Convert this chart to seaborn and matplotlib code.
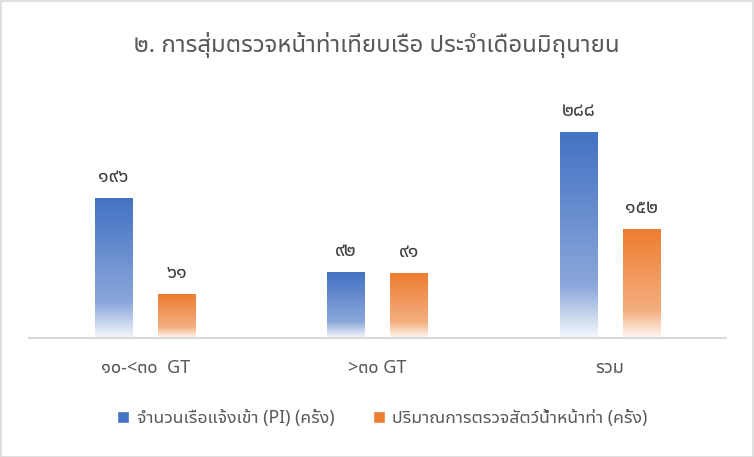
import matplotlib
matplotlib.use("Agg")
import matplotlib.pyplot as plt
import matplotlib.colors as mcolors
from matplotlib.patches import Rectangle
import numpy as np
import pandas as pd
import seaborn as sns

# ---------------- data ----------------
categories = ["๑๐-<๓๐  GT", ">๓๐ GT", "รวม"]
series_names = ["จำนวนเรือแจ้งเข้า (PI) (ครั้ง)", "ปริมาณการตรวจสัตว์น้ำหน้าท่า (ครั้ง)"]
pi_values = [196, 92, 288]
inspect_values = [61, 91, 152]
title_text = "๒. การสุ่มตรวจหน้าท่าเทียบเรือ ประจำเดือนมิถุนายน"

colors = ["#4472C4", "#ED7D31"]

df = pd.DataFrame({
    "category": categories * 2,
    "series": [series_names[0]] * 3 + [series_names[1]] * 3,
    "value": pi_values + inspect_values,
})

THAI_DIGITS = str.maketrans("0123456789", "๐๑๒๓๔๕๖๗๘๙")

sns.set_theme(style="white")
plt.rcParams["font.family"] = ["Noto Sans Thai UI", "Noto Sans", "DejaVu Sans"]

fig = plt.figure(figsize=(7.54, 4.57), dpi=100)
W, H = 754, 457
ax = fig.add_axes([29 / W, (H - 338) / H, (726 - 29) / W, (338 - 88) / H])

sns.barplot(data=df, x="category", y="value", hue="series", order=categories,
            hue_order=series_names, palette=colors, width=0.543, ax=ax,
            legend=True, saturation=1)

ax.set_ylim(0, 350)
ax.set_xlim(-0.5, 2.5)

# gradient fill for each bar
def gradient(base):
    r, g, b = mcolors.to_rgb(base)
    n = 200
    t = np.linspace(0, 1, n)  # 0 top -> 1 bottom
    w = np.where(t < 0.75, 0.38 * (t / 0.75),
                 0.38 + (0.95 - 0.38) * ((t - 0.75) / 0.25))
    arr = np.zeros((n, 1, 3))
    arr[:, 0, 0] = r + (1 - r) * w
    arr[:, 0, 1] = g + (1 - g) * w
    arr[:, 0, 2] = b + (1 - b) * w
    return arr

bar_w = 0.16
label_offset = 21 * 350 / 250
for container, col in zip(ax.containers, colors):
    grad = gradient(col)
    for p in container.patches:
        cx = p.get_x() + p.get_width() / 2
        h = p.get_height()
        p.set_visible(False)
        ax.imshow(grad, extent=[cx - bar_w / 2, cx + bar_w / 2, 0, h],
                  aspect="auto", origin="upper", zorder=2, interpolation="bilinear")
        ax.text(cx, h + label_offset, str(int(h)).translate(THAI_DIGITS),
                ha="center", va="center", fontsize=14, color="#404040")

ax.set_ylim(0, 350)
ax.set_xlim(-0.5, 2.5)

# axes styling
for s in ["top", "right", "left"]:
    ax.spines[s].set_visible(False)
ax.spines["bottom"].set_color("#D9D9D9")
ax.spines["bottom"].set_linewidth(1.5)
ax.set_yticks([])
ax.set_xlabel("")
ax.set_ylabel("")
ax.tick_params(axis="x", length=0, pad=15, labelsize=13, labelcolor="#595959")

fig.text(0.5, 1 - 45 / H, title_text, ha="center", va="center",
         fontsize=17.3, color="#595959")

sns.move_legend(ax, "center", bbox_to_anchor=(0.507, 0.085),
                bbox_transform=fig.transFigure, ncol=2, frameon=False,
                title=None, fontsize=12.7, handlelength=0.7, handleheight=0.7,
                columnspacing=2.2, handletextpad=0.4)
for t in ax.get_legend().get_texts():
    t.set_color("#595959")

fig.patches.append(Rectangle((0.5 / W, 0.5 / H), 1 - 1.5 / W, 1 - 1.5 / H,
                             transform=fig.transFigure, fill=False,
                             edgecolor="#D9D9D9", linewidth=1.2))

fig.savefig("out.png", dpi=100)
